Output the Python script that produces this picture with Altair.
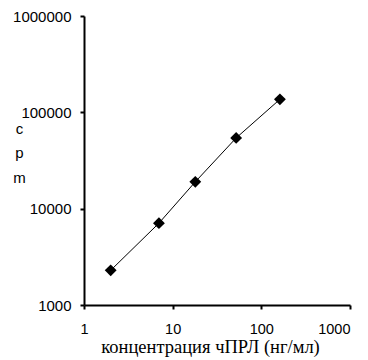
import altair as alt
import pandas as pd

conc = [2, 7, 18, 52, 162]
cpm = [2290, 7070, 19000, 54200, 136500]
x_ticks = [1, 10, 100, 1000]
y_ticks = [1000, 10000, 100000, 1000000]

df = pd.DataFrame({"conc": conc, "cpm": cpm})

x = alt.X("conc:Q",
          scale=alt.Scale(type="log", domain=[1, 1000]),
          axis=alt.Axis(values=x_ticks, format="d", grid=False,
                        labelFlush=False,
                        labelAlign=alt.ExprRef(expr="datum.value == 1000 ? 'right' : 'center'"),
                        title="концентрация чПРЛ (нг/мл)",
                        titleFont="Liberation Serif", titleFontSize=18.5,
                        titleFontWeight="normal", titleColor="black",
                        titleBaseline="alphabetic", titleY=47,
                        titleX=126, titleAlign="center",
                        labelFont="Liberation Sans", labelFontSize=14.5,
                        labelColor="black", labelPadding=13,
                        domainColor="black", domainWidth=2,
                        tickColor="black", tickWidth=2, tickSize=4))
y = alt.Y("cpm:Q",
          scale=alt.Scale(type="log", domain=[1000, 1000000]),
          axis=alt.Axis(values=y_ticks, format="d", grid=False,
                        labelFlush=False,
                        title=["c", "p", "m"], titleAngle=0,
                        titleFont="Liberation Sans", titleFontSize=15,
                        titleFontWeight="normal", titleColor="black",
                        titleAlign="center", titleBaseline="alphabetic",
                        titleX=-65, titleY=117, titleLineHeight=24.5,
                        labelFont="Liberation Sans", labelFontSize=15,
                        labelColor="black", labelPadding=9,
                        domainColor="black", domainWidth=2,
                        tickColor="black", tickWidth=2, tickSize=4))

line = alt.Chart(df).mark_line(color="black", strokeWidth=1).encode(x=x, y=y)
pts = alt.Chart(df).mark_point(shape="diamond", filled=True, color="black",
                               size=140, opacity=1).encode(x=x, y=y)

chart = (line + pts).properties(
    width=266, height=289,
    autosize=alt.AutoSizeParams(type="none"),
    padding={"left": 76, "top": 8, "right": 10, "bottom": 55},
).configure_view(stroke=None)

chart.save("out.html", embed_options={"renderer": "svg", "actions": False})
